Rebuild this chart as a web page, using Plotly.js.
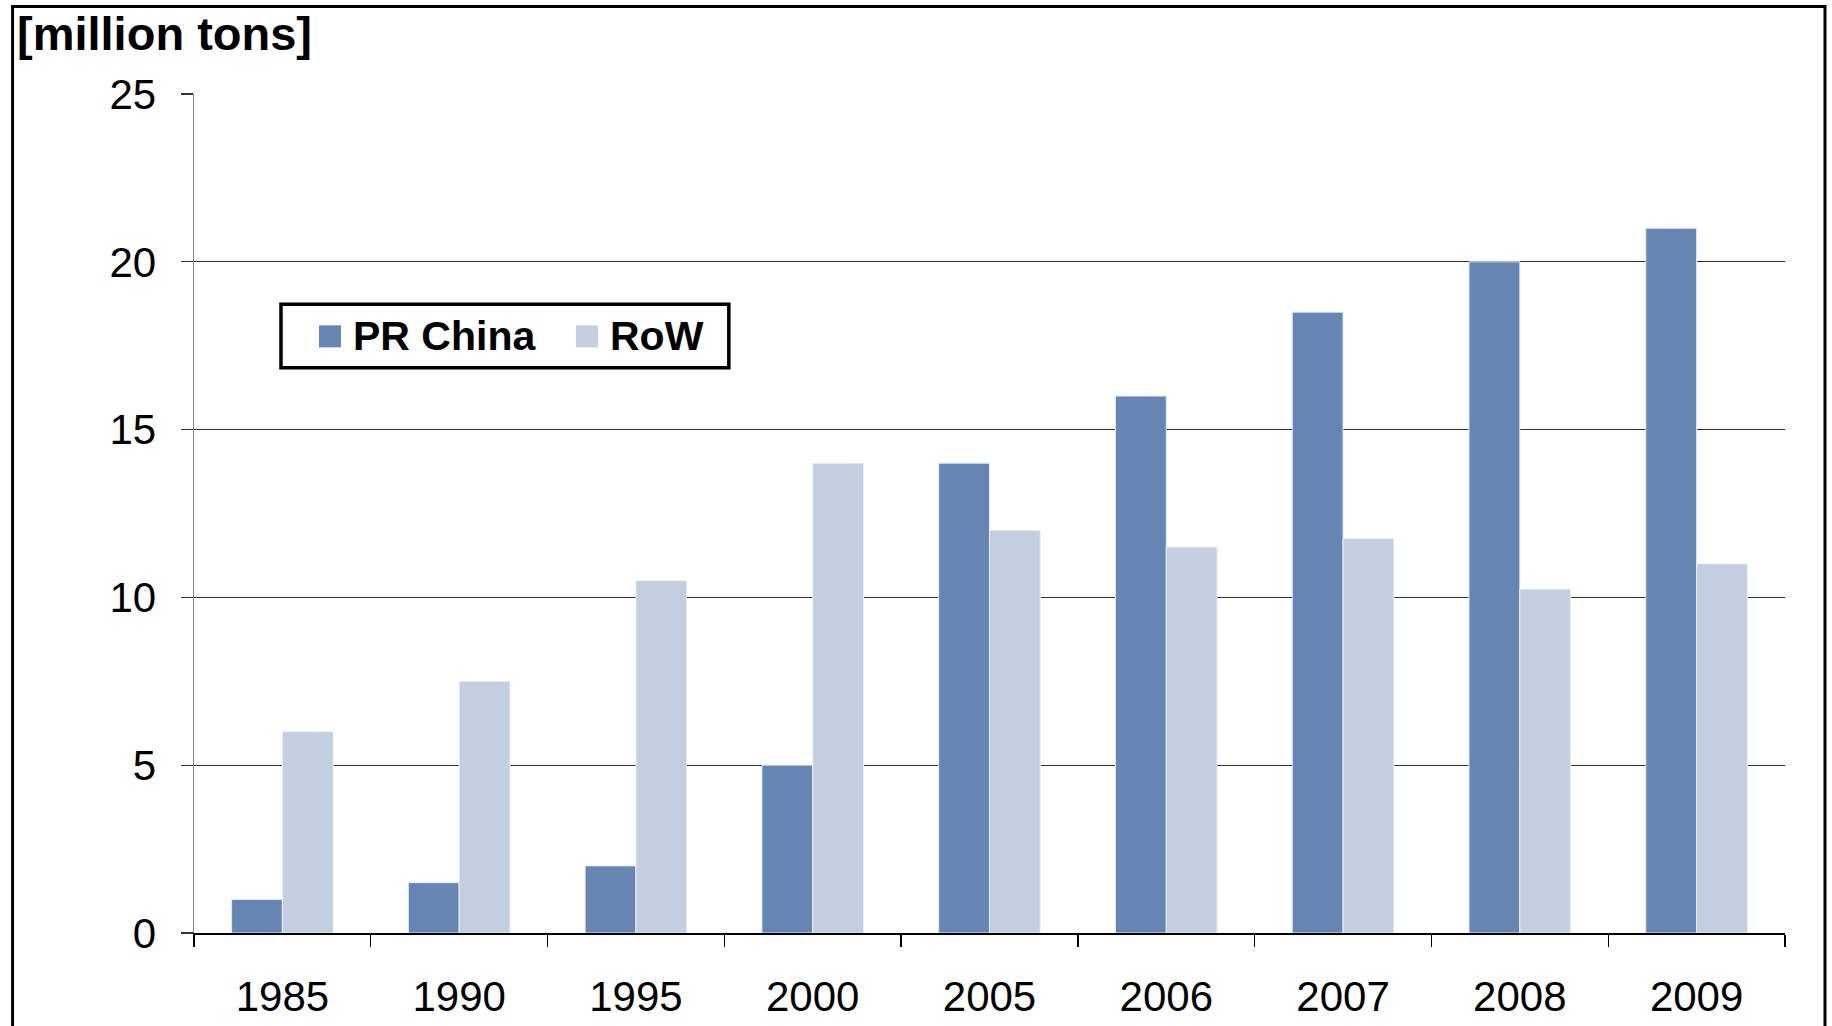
<!DOCTYPE html>
<html>
<head>
<meta charset="utf-8">
<script src="https://cdn.plot.ly/plotly-3.0.1.min.js"></script>
<style>
  html, body { margin: 0; padding: 0; background: #ffffff; }
  #chart { width: 1832px; height: 1026px; }
</style>
</head>
<body>
<div id="chart"></div>
<script>
// Production in million tons, by year
const years = ['1985', '1990', '1995', '2000', '2005', '2006', '2007', '2008', '2009'];
const chinaValues = [1, 1.5, 2, 5, 14, 16, 18.5, 20, 21];
const rowValues = [6, 7.5, 10.5, 14, 12, 11.5, 11.75, 10.25, 11];
const seriesNames = ['PR China', 'RoW'];
const unitLabel = '[million tons]';

const chinaColor = '#6785b3';
const rowColor = '#c3cee0';
const font = 'Liberation Sans, Arial, sans-serif';

// Plot area in pixels (page is 1832 x 1026)
const W = 1832, H = 1026;
const plotL = 194, plotR = 1785.5, plotT = 94, plotB = 933.5;
const px = x => (x - plotL) / (plotR - plotL);
const py = y => (plotB - y) / (plotB - plotT);

const traces = [
  {
    type: 'bar', name: seriesNames[0], x: years, y: chinaValues,
    marker: { color: chinaColor, line: { color: '#e4e9f2', width: 1 } },
    showlegend: false, hoverinfo: 'x+y+name'
  },
  {
    type: 'bar', name: seriesNames[1], x: years, y: rowValues,
    marker: { color: rowColor, line: { color: '#edf0f6', width: 1 } },
    showlegend: false, hoverinfo: 'x+y+name'
  }
];

// Legend drawn as a framed box with two colour swatches
const legendBox = { x0: 281, x1: 729, y0: 304.5, y1: 368 };
const swatches = [
  { cx: 330, color: chinaColor, textX: 351, name: seriesNames[0] },
  { cx: 587, color: rowColor, textX: 608, name: seriesNames[1] }
];
const legendMidY = 336.5;

const shapes = [
  // outer frame of the figure
  { type: 'rect', xref: 'paper', yref: 'paper',
    x0: px(12.5), x1: px(1825.5), y0: py(6.5), y1: py(1060),
    line: { color: '#000000', width: 3 }, fillcolor: 'rgba(0,0,0,0)', layer: 'above' },
  { type: 'rect', xref: 'paper', yref: 'paper',
    x0: px(legendBox.x0), x1: px(legendBox.x1), y0: py(legendBox.y0), y1: py(legendBox.y1),
    line: { color: '#000000', width: 3.5 }, fillcolor: '#ffffff', layer: 'above' }
];
const annotations = [];
swatches.forEach(s => {
  shapes.push({ type: 'rect', xref: 'paper', yref: 'paper',
    x0: px(s.cx - 11), x1: px(s.cx + 11), y0: py(legendMidY - 11), y1: py(legendMidY + 11),
    line: { width: 0 }, fillcolor: s.color, layer: 'above' });
  annotations.push({ xref: 'paper', yref: 'paper', x: px(s.textX), y: py(legendMidY),
    xanchor: 'left', yanchor: 'middle', showarrow: false, text: '<b>' + s.name + '</b>',
    font: { family: font, size: 41, color: '#000000' } });
});

const layout = {
  width: W, height: H,
  margin: { l: plotL, r: W - plotR, t: plotT, b: H - plotB, pad: 0 },
  paper_bgcolor: '#ffffff', plot_bgcolor: '#ffffff',
  title: {
    text: '<b>' + unitLabel + '</b>',
    xref: 'container', yref: 'container',
    x: 17 / W, xanchor: 'left',
    y: 1 - 17 / H, yanchor: 'top',
    font: { family: font, size: 47, color: '#000000' }
  },
  barmode: 'group', bargap: 0.425, bargroupgap: 0,
  showlegend: false,
  xaxis: {
    type: 'category',
    tickson: 'boundaries', ticks: 'outside', ticklen: 12, tickwidth: 1.3, tickcolor: '#000000',
    showline: true, linecolor: '#000000', linewidth: 1.5,
    showgrid: false, zeroline: false,
    ticklabelstandoff: 26,
    tickfont: { family: font, size: 42, color: '#000000' }
  },
  yaxis: {
    range: [0, 25], dtick: 5, tick0: 0,
    ticks: 'outside', ticklen: 12, tickwidth: 1.3, tickcolor: '#333333',
    showline: true, linecolor: '#808080', linewidth: 1.5,
    showgrid: true, gridcolor: '#333333', gridwidth: 1.3,
    zeroline: false,
    ticklabelstandoff: 16,
    tickfont: { family: font, size: 42, color: '#000000' }
  },
  shapes: shapes,
  annotations: annotations
};

Plotly.newPlot('chart', traces, layout, { displayModeBar: false, staticPlot: true });
</script>
</body>
</html>
